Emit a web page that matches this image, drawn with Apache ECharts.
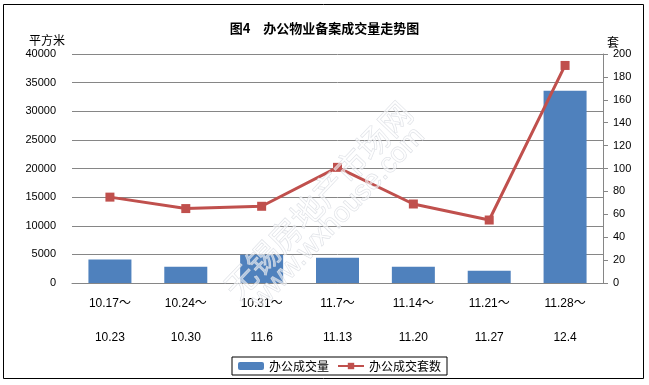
<!DOCTYPE html>
<html>
<head>
<meta charset="utf-8">
<script src="https://cdn.jsdelivr.net/npm/echarts@6/dist/echarts.min.js"></script>
<style>
html,body{margin:0;padding:0;background:#fff;}
#chart{width:649px;height:385px;}
</style>
</head>
<body>
<div id="chart"></div>
<script>
var periodStart = ['10.17～', '10.24～', '10.31～', '11.7～', '11.14～', '11.21～', '11.28～'];
var periodEnd = ['10.23', '10.30', '11.6', '11.13', '11.20', '11.27', '12.4'];
var officeArea = [4100, 2850, 4950, 4400, 2850, 2150, 33600];
var officeUnits = [75, 65, 67, 101, 69, 55, 190];
var leftTicks = [0, 40000, 5000];
var rightTicks = [0, 200, 20];

var categories = periodStart.map(function (s, i) { return s + '\n' + periodEnd[i]; });
var cjk = '"Noto Sans CJK SC", "Liberation Sans", sans-serif';
var lat = '"Liberation Sans", "Noto Sans CJK SC", sans-serif';

var chart = echarts.init(document.getElementById('chart'));
chart.setOption({
  animation: false,
  backgroundColor: '#ffffff',
  title: {
    text: '图4　办公物业备案成交量走势图',
    left: 'center',
    top: 17,
    textStyle: { fontFamily: cjk, fontSize: 13, fontWeight: 'bold', color: '#000' }
  },
  legend: {
    left: 232,
    top: 357,
    padding: [3, 6],
    itemGap: 8,
    itemWidth: 26,
    itemHeight: 8,
    borderColor: '#000',
    borderWidth: 1,
    textStyle: { fontFamily: cjk, fontSize: 12, color: '#000' },
    data: ['办公成交量', '办公成交套数']
  },
  grid: { left: 72, right: 46, top: 54, bottom: 102 },
  xAxis: {
    type: 'category',
    data: categories,
    axisLine: { show: true, lineStyle: { color: '#868686', width: 1 } },
    axisTick: { show: false },
    axisLabel: {
      interval: 0,
      margin: 4,
      fontFamily: lat,
      fontSize: 12,
      lineHeight: 34,
      color: '#000'
    }
  },
  yAxis: [
    {
      type: 'value',
      min: leftTicks[0],
      max: leftTicks[1],
      interval: leftTicks[2],
      name: '平方米',
      nameLocation: 'end',
      nameGap: 8,
      nameTextStyle: { fontFamily: cjk, fontSize: 12, color: '#000', padding: [0, 50, 0, 0] },
      axisLine: { show: false },
      axisTick: { show: false },
      axisLabel: { margin: 16, fontFamily: lat, fontSize: 11, color: '#000', formatter: function (v) { return String(v); } },
      splitLine: { show: true, lineStyle: { color: '#868686', width: 1 } }
    },
    {
      type: 'value',
      position: 'right',
      min: rightTicks[0],
      max: rightTicks[1],
      interval: rightTicks[2],
      name: '套',
      nameLocation: 'end',
      nameGap: 5,
      nameTextStyle: { fontFamily: cjk, fontSize: 12, color: '#000', padding: [0, 0, 0, 20] },
      axisLine: { show: true, lineStyle: { color: '#868686', width: 1 } },
      axisTick: { show: true, inside: false, length: 5, lineStyle: { color: '#868686' } },
      axisLabel: { margin: 10, fontFamily: lat, fontSize: 11, color: '#000' },
      splitLine: { show: false }
    }
  ],
  series: [
    {
      name: '办公成交量',
      type: 'bar',
      yAxisIndex: 0,
      data: officeArea,
      barWidth: 43,
      itemStyle: { color: '#4F81BD' }
    },
    {
      name: '办公成交套数',
      type: 'line',
      yAxisIndex: 1,
      data: officeUnits,
      symbol: 'rect',
      symbolSize: 9,
      lineStyle: { color: '#C0504D', width: 3 },
      itemStyle: { color: '#C0504D' }
    }
  ],
  graphic: [
    {
      type: 'rect',
      shape: { x: 3.5, y: 4.5, width: 640, height: 374 },
      style: { fill: 'none', stroke: '#000', lineWidth: 1 },
      silent: true,
      z: 100
    },
    {
      type: 'text',
      x: 318, y: 200,
      rotation: 46.5 * Math.PI / 180,
      style: {
        text: '无锡房地产市场网',
        fontFamily: cjk, fontSize: 32,
        fill: 'rgba(255,255,255,0.55)', stroke: 'rgba(205,210,218,0.75)', lineWidth: 0.8,
        align: 'center', verticalAlign: 'middle'
      },
      silent: true,
      z: 90
    },
    {
      type: 'text',
      x: 338, y: 218,
      rotation: 46.5 * Math.PI / 180,
      style: {
        text: 'www.wxhouse.com',
        fontFamily: lat, fontSize: 28,
        fill: 'rgba(255,255,255,0.55)', stroke: 'rgba(205,210,218,0.75)', lineWidth: 0.8,
        align: 'center', verticalAlign: 'middle'
      },
      silent: true,
      z: 90
    }
  ]
});
</script>
</body>
</html>
